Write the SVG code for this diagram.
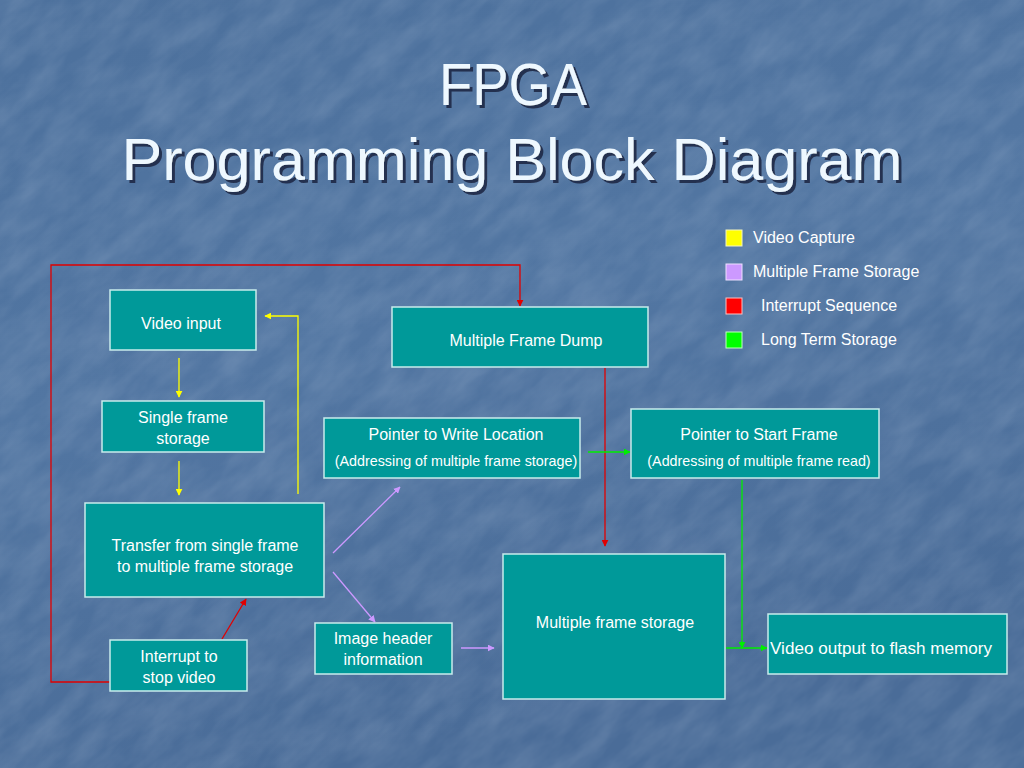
<svg xmlns="http://www.w3.org/2000/svg" width="1024" height="768" viewBox="0 0 1024 768">
<style>
.box{fill:#009999;stroke:#c8ecec;stroke-width:1.5}
.t{font-family:"Liberation Sans",Arial,sans-serif;font-size:16px;fill:#ffffff;text-anchor:middle}
.s{font-size:14.3px}
.lg{font-family:"Liberation Sans",Arial,sans-serif;font-size:16px;fill:#ffffff}
.title{font-family:"Liberation Sans",Arial,sans-serif;font-size:60px;fill:#eef8ff;text-anchor:middle}
.red{stroke:#e00000;stroke-width:1.3;fill:none}
.yel{stroke:#ffff00;stroke-width:1.3;fill:none}
.pur{stroke:#cc99ff;stroke-width:1.3;fill:none}
.grn{stroke:#00ee00;stroke-width:1.3;fill:none}
</style>
<defs>
<linearGradient id="bg" x1="0" y1="0" x2="0.3" y2="1">
<stop offset="0" stop-color="#4c709c"/>
<stop offset="0.5" stop-color="#5276a2"/>
<stop offset="1" stop-color="#4a6c98"/>
</linearGradient>
<filter id="tex" x="0" y="0" width="100%" height="100%">
<feTurbulence type="fractalNoise" baseFrequency="0.02 0.05" numOctaves="4" seed="7" result="n"/>
<feColorMatrix in="n" type="matrix" values="0 0 0 0 0.78  0 0 0 0 0.85  0 0 0 0 0.95  0 0 0 0.22 -0.06" result="c"/>
<feComposite in="c" in2="SourceGraphic" operator="in"/>
</filter>
<filter id="sh" x="-5%" y="-20%" width="110%" height="140%">
<feDropShadow dx="3" dy="3" stdDeviation="0.6" flood-color="#1a2a44" flood-opacity="0.9"/>
</filter>
<marker id="aR" viewBox="0 0 10 10" refX="9" refY="5" markerWidth="7" markerHeight="7" orient="auto" markerUnits="userSpaceOnUse"><path d="M0,0 L10,5 L0,10 Z" fill="#e00000"/></marker>
<marker id="aY" viewBox="0 0 10 10" refX="9" refY="5" markerWidth="7" markerHeight="7" orient="auto" markerUnits="userSpaceOnUse"><path d="M0,0 L10,5 L0,10 Z" fill="#ffff00"/></marker>
<marker id="aP" viewBox="0 0 10 10" refX="9" refY="5" markerWidth="7" markerHeight="7" orient="auto" markerUnits="userSpaceOnUse"><path d="M0,0 L10,5 L0,10 Z" fill="#cc99ff"/></marker>
<marker id="aG" viewBox="0 0 10 10" refX="9" refY="5" markerWidth="7" markerHeight="7" orient="auto" markerUnits="userSpaceOnUse"><path d="M0,0 L10,5 L0,10 Z" fill="#00ee00"/></marker>
</defs>
<rect width="1024" height="768" fill="url(#bg)"/>
<g transform="rotate(-40 512 384)"><rect x="-300" y="-300" width="1624" height="1368" fill="#ffffff" filter="url(#tex)"/></g>

<g id="title" filter="url(#sh)">
<text class="title" x="513" y="105" textLength="148" lengthAdjust="spacingAndGlyphs">FPGA</text>
<text class="title" x="512" y="180" textLength="781" lengthAdjust="spacingAndGlyphs">Programming Block Diagram</text>
</g>

<g id="legend">
<rect x="726" y="230" width="16" height="16" fill="#ffff00" stroke="#f4f4c0"/>
<text class="lg" x="753" y="243">Video Capture</text>
<rect x="726" y="264" width="16" height="16" fill="#cc99ff" stroke="#eee0ff"/>
<text class="lg" x="753" y="277">Multiple Frame Storage</text>
<rect x="726" y="298" width="16" height="16" fill="#ff0000" stroke="#ffc0c0"/>
<text class="lg" x="761" y="311">Interrupt Sequence</text>
<rect x="726" y="332" width="16" height="16" fill="#00ff00" stroke="#c0ffc0"/>
<text class="lg" x="761" y="345">Long Term Storage</text>
</g>

<g id="connectors">
<polyline class="red" points="110,682 51,682 51,265 520,265 520,306" marker-end="url(#aR)"/>
<line class="red" x1="222" y1="639" x2="246" y2="599" marker-end="url(#aR)"/>
<line class="red" x1="605" y1="368" x2="605" y2="546" marker-end="url(#aR)"/>
<line class="yel" x1="179" y1="358" x2="179" y2="397" marker-end="url(#aY)"/>
<line class="yel" x1="179" y1="461" x2="179" y2="495" marker-end="url(#aY)"/>
<polyline class="yel" points="298,494 298,316 265,316" marker-end="url(#aY)"/>
<line class="pur" x1="333" y1="553" x2="400" y2="487" marker-end="url(#aP)"/>
<line class="pur" x1="333" y1="572" x2="375" y2="622" marker-end="url(#aP)"/>
<line class="pur" x1="461" y1="648" x2="494" y2="648" marker-end="url(#aP)"/>
<line class="grn" x1="588" y1="452" x2="630" y2="452" marker-end="url(#aG)"/>
<line class="grn" x1="742" y1="480" x2="742" y2="648" marker-end="url(#aG)"/>
<line class="grn" x1="726" y1="648" x2="767" y2="648" marker-end="url(#aG)"/>
</g>

<g id="video-input"><rect class="box" x="110" y="290" width="146" height="60"/><text class="t" x="181" y="329">Video input</text></g>
<g id="single-frame"><rect class="box" x="102" y="401" width="162" height="51"/><text class="t" x="183" y="423">Single frame</text><text class="t" x="183" y="444">storage</text></g>
<g id="transfer"><rect class="box" x="85" y="503" width="239" height="94"/><text class="t" x="205" y="551">Transfer from single frame</text><text class="t" x="205" y="572">to multiple frame storage</text></g>
<g id="interrupt"><rect class="box" x="110" y="640" width="137" height="51"/><text class="t" x="179" y="662">Interrupt to</text><text class="t" x="179" y="683">stop video</text></g>
<g id="frame-dump"><rect class="box" x="392" y="307" width="256" height="60"/><text class="t" x="526" y="346">Multiple Frame Dump</text></g>
<g id="write-pointer"><rect class="box" x="324" y="418" width="256" height="60"/><text class="t" x="456" y="440">Pointer to Write Location</text><text class="t s" x="456" y="466">(Addressing of multiple frame storage)</text></g>
<g id="start-pointer"><rect class="box" x="631" y="409" width="248" height="69"/><text class="t" x="759" y="440">Pointer to Start Frame</text><text class="t s" x="759" y="466">(Addressing of multiple frame read)</text></g>
<g id="multi-storage"><rect class="box" x="503" y="554" width="222" height="145"/><text class="t" x="615" y="628">Multiple frame storage</text></g>
<g id="image-header"><rect class="box" x="315" y="623" width="137" height="51"/><text class="t" x="383" y="644">Image header</text><text class="t" x="383" y="665">information</text></g>
<g id="video-output"><rect class="box" x="768" y="614" width="239" height="60"/><text class="t" x="881" y="654" textLength="222" lengthAdjust="spacingAndGlyphs">Video output to flash memory</text></g>
</svg>
